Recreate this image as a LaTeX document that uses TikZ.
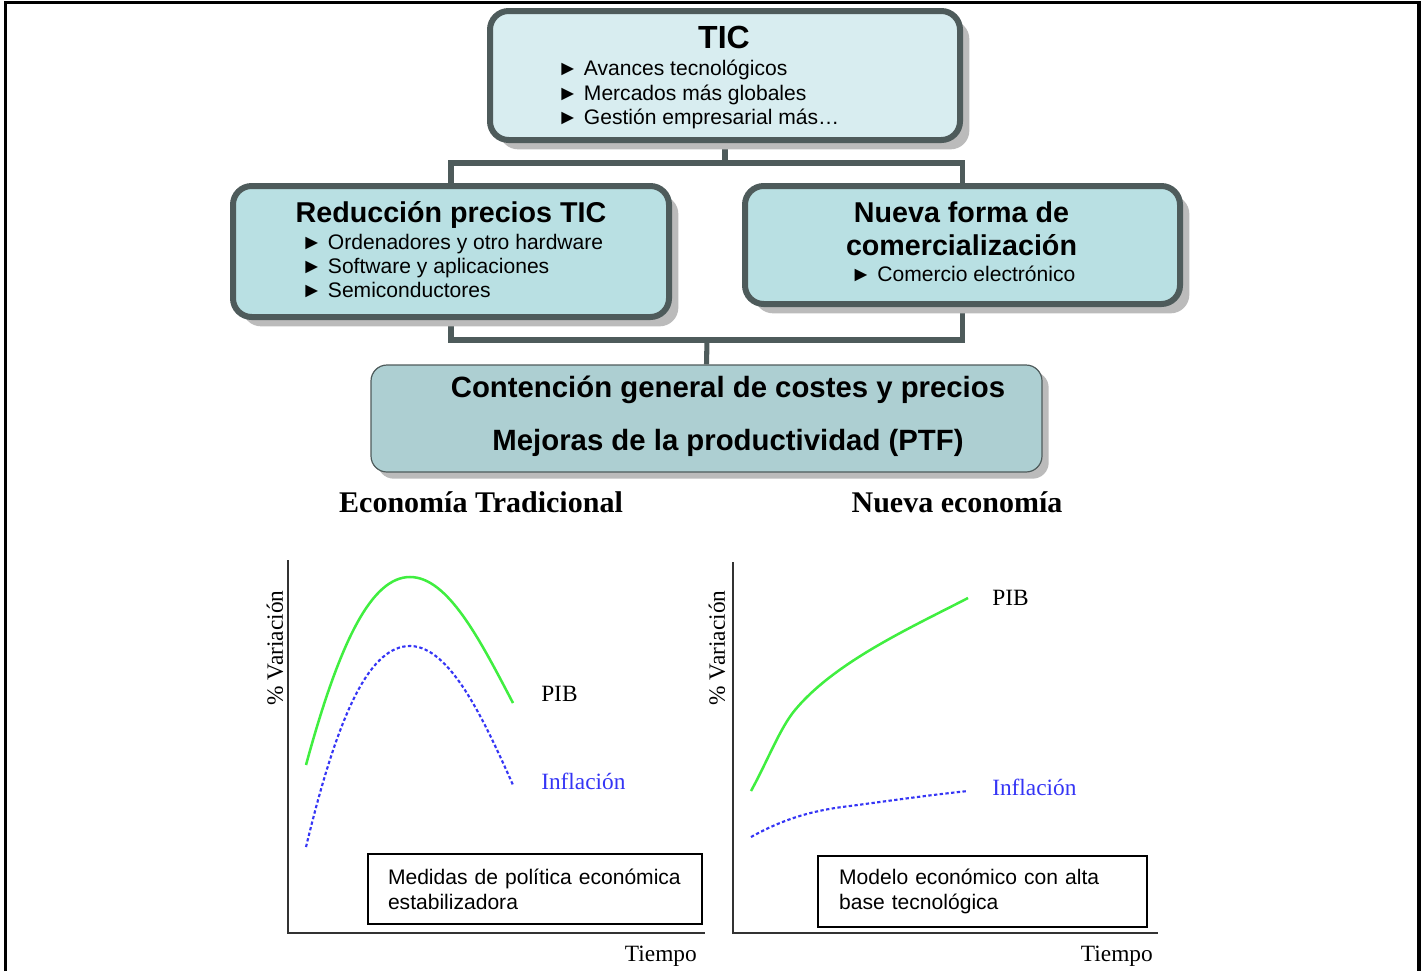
\documentclass[tikz,border=0pt]{standalone}
\usepackage{fontspec}
\setmainfont{Liberation Serif}
\setsansfont{Liberation Sans}
\usetikzlibrary{fit,shadows,backgrounds}

\definecolor{boxline}{HTML}{4E5B5B}
\definecolor{ticfill}{HTML}{D8EDF0}
\definecolor{midfill}{HTML}{B9E0E3}
\definecolor{resfill}{HTML}{ADCFD2}
\definecolor{shade}{HTML}{BBBBBB}
\definecolor{pibgreen}{HTML}{40EE40}
\definecolor{infblue}{HTML}{3535F5}

\tikzset{
	mainbox/.style={draw=boxline, line width=4.5pt, rounded corners=14pt, inner sep=0pt,
		drop shadow={shadow xshift=7pt, shadow yshift=-7pt, fill=shade, opacity=1}},
	resbox/.style={draw=boxline, line width=0.9pt, fill=resfill, rounded corners=12pt, inner sep=0pt,
		drop shadow={shadow xshift=5pt, shadow yshift=-5pt, fill=shade, opacity=1}},
	conn/.style={draw=boxline, line width=3.8pt},
	boxtitle/.style={font=\sffamily\bfseries\fontsize{21.5pt}{25pt}\selectfont, inner sep=0pt},
	boxitem/.style={font=\sffamily\fontsize{15.8pt}{18pt}\selectfont, inner sep=0pt, anchor=base west},
	restext/.style={font=\sffamily\bfseries\fontsize{22pt}{26pt}\selectfont, inner sep=0pt, anchor=base},
	axis/.style={draw=black!80, line width=1.5pt},
	pib/.style={draw=pibgreen, line width=1.9pt},
	infl/.style={draw=infblue, line width=1.6pt, dash pattern=on 2.5pt off 1.8pt},
	serif/.style={font=\fontsize{17.5pt}{20pt}\selectfont, inner sep=0pt},
	chartitle/.style={font=\bfseries\fontsize{22.5pt}{26pt}\selectfont, inner sep=0pt},
	notebox/.style={draw=black, line width=1.5pt, align=left, inner xsep=15pt,
		font=\sffamily\fontsize{15.8pt}{18.75pt}\selectfont}
}

\begin{document}
\begin{tikzpicture}[x=0.75pt, y=-0.75pt]
			%%%%% FRAME %%%%%
			\useasboundingbox (0,0) rectangle (1426,971);
			\draw[line width=2.3pt] (5.3,971) -- (5.3,2.7) -- (1419,2.7) -- (1419,971);
			
			%%%%% BOXES %%%%%
			\node[mainbox, fill=ticfill, fit={(490,11) (960,140)}] (tic) {};
			\node[mainbox, fill=midfill, fit={(233,186) (669,317)}] (red) {};
			\node[mainbox, fill=midfill, fit={(745,186) (1180,304)}] (nue) {};
			\node[resbox, fit={(371,365) (1042,472)}] (con) {};
			
			%%%%% CONNECTORS %%%%%
			\coordinate (busA) at (725,163);
			\coordinate (busB) at (707,340);
			\begin{scope}[on background layer]
				\draw[conn] (tic.south) -- (busA);
				\draw[conn] (red.north) |- (busA) -| (nue.north);
				\draw[conn] (red.south) |- (busB) -| (nue.south);
				\draw[conn] (busB) -- (con.north);
			\end{scope}
			
			% TIC
			\node[boxtitle, anchor=base, font=\sffamily\bfseries\fontsize{24pt}{28pt}\selectfont] (tic-t) at (724,48) {TIC};
			\node[boxitem] (tic-1) at (557,75) {► Avances tecnológicos};
			\node[boxitem] (tic-2) at (557,100) {► Mercados más globales};
			\node[boxitem] (tic-3) at (557,124) {► Gestión empresarial más…};
			
			% Reduccion
			\node[boxtitle, anchor=base] (red-t) at (451,222) {Reducción precios TIC};
			\node[boxitem] (red-1) at (301,249) {► Ordenadores y otro hardware};
			\node[boxitem] (red-2) at (301,273) {► Software y aplicaciones};
			\node[boxitem] (red-3) at (301,297) {► Semiconductores};
			
			% Nueva forma
			\node[boxtitle, anchor=base] (nue-t1) at (961.5,222) {Nueva forma de};
			\node[boxtitle, anchor=base] (nue-t2) at (961.5,255) {comercialización};
			\node[boxitem, anchor=base] (nue-1) at (963,281) {► Comercio electrónico};
			
			% Contencion
			\node[restext] (con-1) at (728,397) {Contención general de costes y precios};
			\node[restext] (con-2) at (728,450) {Mejoras de la productividad (PTF)};
			
			%%%%% CHARTS %%%%%
			\node[chartitle] (tit-l) at (481,502) {Economía Tradicional};
			\node[chartitle] (tit-r) at (957,502) {Nueva economía};
			
			% left chart
			\draw[axis] (288,560) -- (288,933) -- (705,933);
			\draw[pib] (306,765) .. controls (340,640) and (372,577) .. (410,577) .. controls (448,577) and (480,640) .. (513,703);
			\draw[infl] (306,847) .. controls (340,705) and (372,646) .. (410,646) .. controls (450,646) and (484,720) .. (513,785);
			\node[serif, rotate=90] (var-l) at (275,648) {\% Variación};
			\node[serif, anchor=west] (pib-l) at (541,694) {PIB};
			\node[serif, anchor=west, text=infblue] (inf-l) at (541,781) {Inflación};
			\node[serif, anchor=east] (tie-l) at (697,956) {Tiempo};
			\node[notebox, minimum width=250.5pt, minimum height=52.5pt, text width=220.5pt] (note-l) at (535,889) {Medidas de política económica\\estabilizadora};
			
			% right chart
			\draw[axis] (733,562) -- (733,933) -- (1158,933);
			\draw[pib] (751,791) .. controls (768,760) and (780,728) .. (795,710) .. controls (835,662) and (910,628) .. (968,598);
			\draw[infl] (751,837) .. controls (785,818) and (815,810) .. (850,806) .. controls (895,800) and (930,795) .. (968,791);
			\node[serif, rotate=90] (var-r) at (717,648) {\% Variación};
			\node[serif, anchor=west] (pib-r) at (992,598) {PIB};
			\node[serif, anchor=west, text=infblue] (inf-r) at (992,787) {Inflación};
			\node[serif, anchor=east] (tie-r) at (1153,956) {Tiempo};
			\node[notebox, minimum width=246.75pt, minimum height=53.25pt, text width=215pt, inner xsep=15.75pt] (note-r) at (982.5,891) {Modelo económico con alta\\base tecnológica};
			
		\end{tikzpicture}
\end{document}
